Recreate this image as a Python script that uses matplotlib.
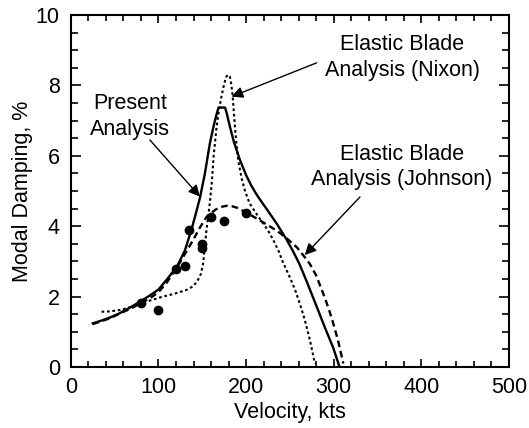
import numpy as np
import matplotlib
matplotlib.use('Agg')
import matplotlib.pyplot as plt
from matplotlib.ticker import MultipleLocator

plt.rcParams['font.family'] = ['Liberation Sans', 'DejaVu Sans']

#------- data -----------------------------------------------
# test data (filled circles)
test_v = [80, 100, 120, 130, 135, 150, 150, 160, 175, 200]
test_d = [1.83, 1.62, 2.79, 2.88, 3.89, 3.49, 3.37, 4.27, 4.16, 4.37]

# present analysis (solid)
present_v = [25, 35, 45, 55, 67, 79, 90, 100, 110, 121, 130, 137.5, 142, 147.3, 153,
             158.7, 163, 166, 168.5, 176, 178, 181.5, 186, 193, 200, 206, 212, 218,
             224, 235, 246, 254, 261, 270, 280.5, 290, 299.4, 306]
present_d = [1.24, 1.32, 1.41, 1.52, 1.68, 1.86, 2.03, 2.2, 2.5, 2.85, 3.3, 3.89, 4.3,
             4.8, 5.5, 6.36, 6.85, 7.15, 7.37, 7.37, 7.2, 6.83, 6.4, 5.88, 5.45, 5.15,
             4.9, 4.68, 4.47, 4.07, 3.63, 3.27, 2.92, 2.38, 1.72, 1.12, 0.55, 0.05]

# elastic blade analysis, Johnson (dashed)
johnson_v = [25, 35, 45, 56, 70, 86, 93, 100, 109, 124, 139.6, 147, 155, 165, 172, 178,
             185, 190, 197, 205, 212, 220, 230, 239, 248, 258, 266, 273, 280, 288, 294,
             299, 305, 311]
johnson_d = [1.22, 1.3, 1.39, 1.52, 1.68, 1.9, 2.0, 2.13, 2.38, 2.95, 3.61, 3.95, 4.27,
             4.47, 4.55, 4.58, 4.56, 4.52, 4.43, 4.32, 4.22, 4.1, 3.95, 3.8, 3.62, 3.4,
             3.15, 2.92, 2.6, 2.09, 1.68, 1.28, 0.75, 0.1]

# elastic blade analysis, Nixon (dotted)
nixon_v = [35, 45, 56, 68, 79, 92, 105, 118, 132, 140, 145, 148.5, 151, 153, 154.8,
           156.7, 159, 161, 163, 166, 169, 172, 175, 177.5, 179.6, 181.5, 183, 184.5,
           186, 187.5, 189.5, 191.5, 195, 199, 204, 211, 218, 225, 231, 237, 242, 249,
           256, 262, 267, 273, 278.5]
nixon_d = [1.57, 1.58, 1.62, 1.7, 1.81, 1.9, 2.0, 2.08, 2.19, 2.3, 2.47, 2.65, 2.95,
           3.45, 3.9, 4.27, 4.75, 5.3, 6.0, 6.75, 7.3, 7.7, 8.05, 8.25, 8.3, 8.25, 8.05,
           7.75, 7.25, 6.75, 6.2, 5.8, 5.35, 4.98, 4.65, 4.38, 4.13, 3.88, 3.61, 3.3,
           2.98, 2.6, 2.19, 1.75, 1.34, 0.75, 0.1]


fig = plt.figure(figsize=(5.29, 4.28), dpi=100)
ax = fig.add_axes([0.134, 0.1425, 0.828, 0.8225])

ax.plot(present_v, present_d, color='black', lw=1.7, solid_joinstyle='round')
ax.plot(johnson_v, johnson_d, color='black', lw=1.7, linestyle=(0, (2.8, 1.7)))
ax.plot(nixon_v, nixon_d, color='black', lw=1.5, linestyle=(0, (1.3, 1.3)))
ax.plot(test_v, test_d, 'o', color='black', markersize=6)

# labels + arrows (baseline = last line)
fs = 15.5
arr = dict(arrowstyle='-|>', color='black', lw=1.0, mutation_scale=17,
           shrinkA=0, shrinkB=0)
ax.text(67.4, 6.59, 'Present\nAnalysis', ha='center', va='baseline', fontsize=fs,
        linespacing=1.3)
ax.annotate('', xy=(147.3, 4.84), xytext=(90.2, 6.45), arrowprops=arr)

ax.text(378, 8.27, 'Elastic Blade\nAnalysis (Nixon)', ha='center', va='baseline',
        fontsize=fs, linespacing=1.3)
ax.annotate('', xy=(183.4, 7.68), xytext=(280.5, 8.64), arrowprops=arr)

ax.text(378, 5.16, 'Elastic Blade\nAnalysis (Johnson)', ha='center', va='baseline',
        fontsize=fs, linespacing=1.3)
ax.annotate('', xy=(267, 3.18), xytext=(330, 4.83), arrowprops=arr)

ax.set_xlim(0, 500)
ax.set_ylim(0, 10)
ax.xaxis.set_major_locator(MultipleLocator(100))
ax.xaxis.set_minor_locator(MultipleLocator(20))
ax.yaxis.set_major_locator(MultipleLocator(2))
ax.yaxis.set_minor_locator(MultipleLocator(0.5))
ax.tick_params(which='both', direction='in', top=True, right=True, width=1.2,
               labelsize=fs)
ax.tick_params(axis='x', which='major', length=6, pad=7)
ax.tick_params(axis='x', which='minor', length=4)
ax.tick_params(axis='y', which='major', length=7, pad=8)
ax.tick_params(axis='y', which='minor', length=5)
for s in ax.spines.values():
    s.set_linewidth(1.5)

ax.set_xlabel('Velocity, kts', fontsize=fs, labelpad=3)
ax.set_ylabel('Modal Damping, %', fontsize=fs, labelpad=2)

plt.savefig('out.png', dpi=100)
